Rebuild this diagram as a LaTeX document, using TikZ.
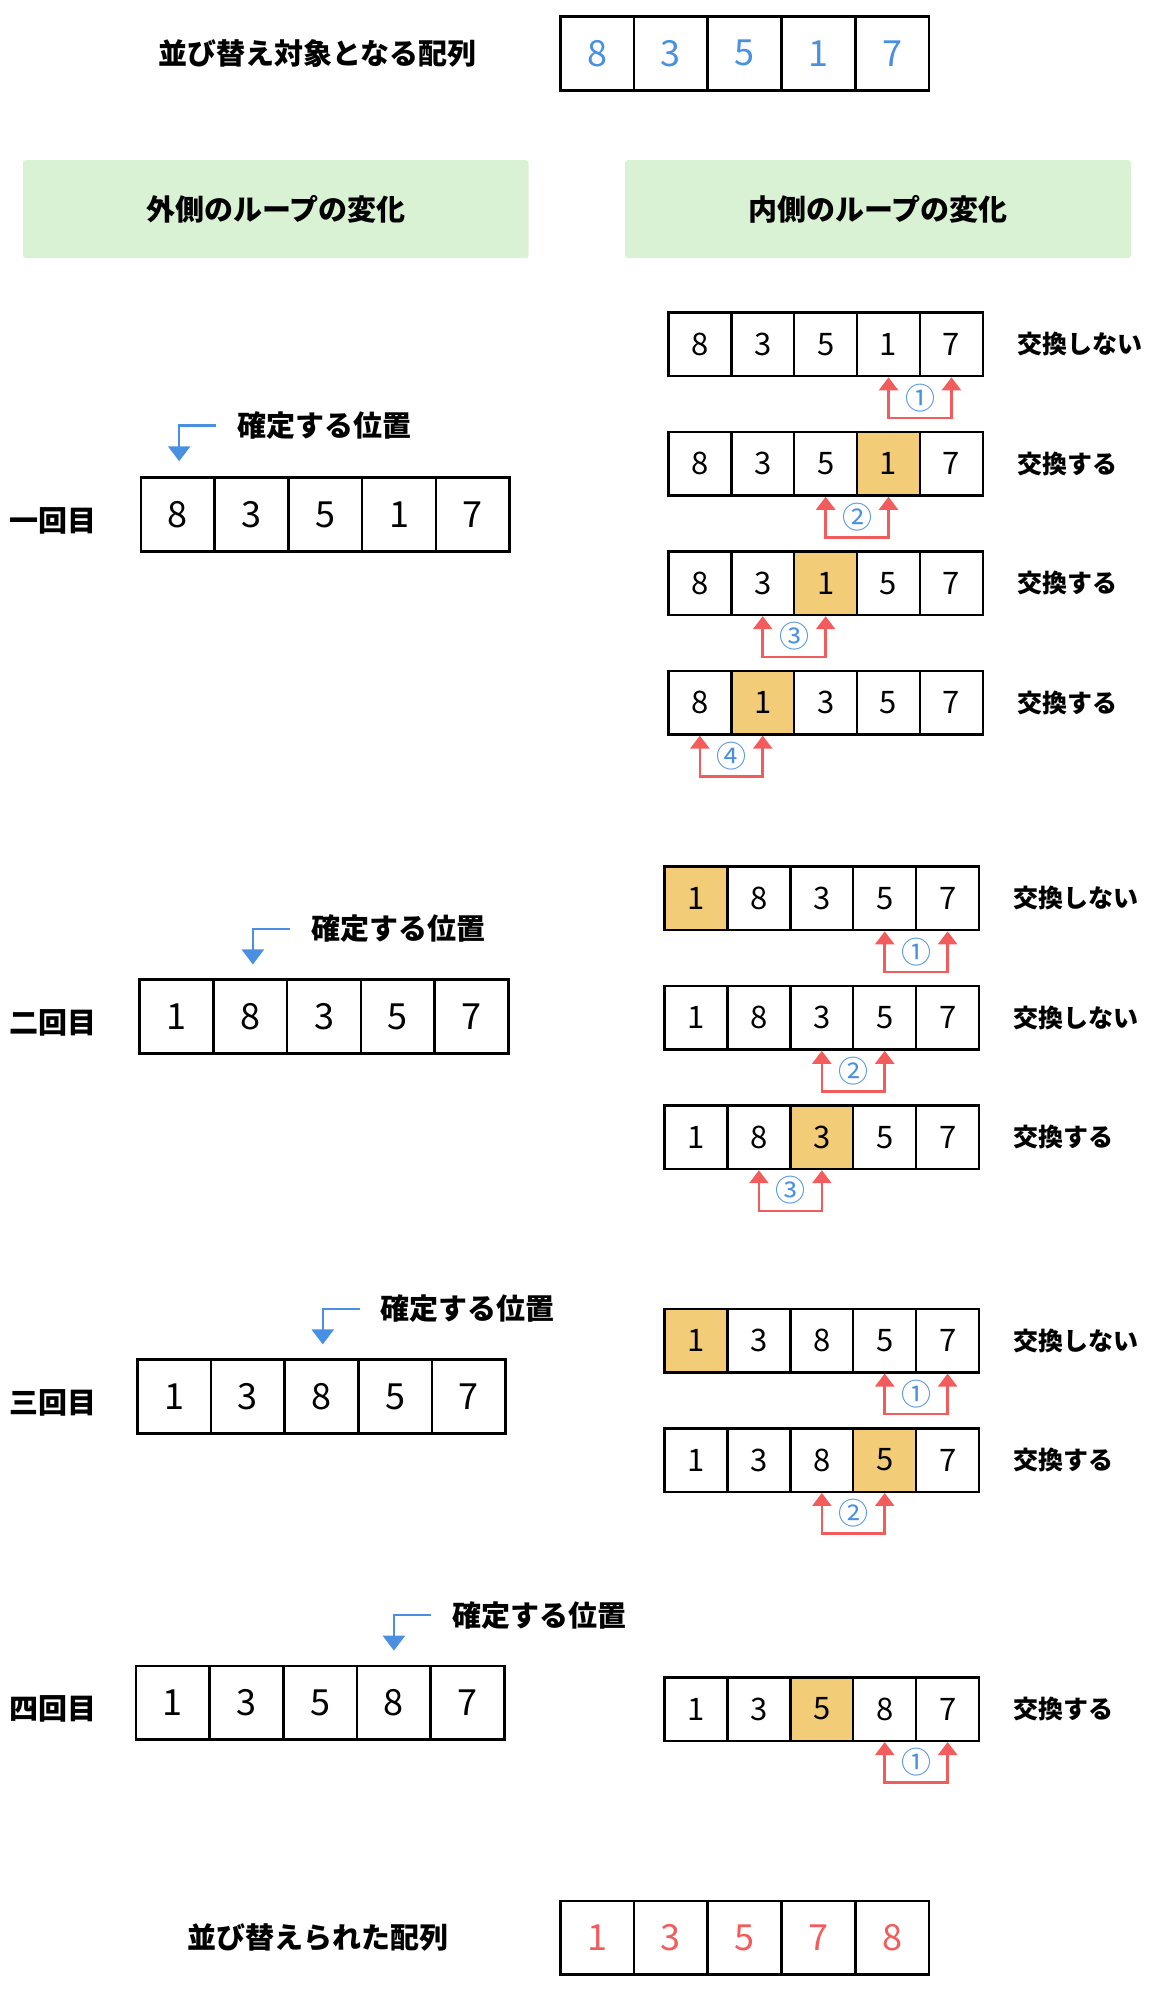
\documentclass[tikz,border=0pt]{standalone}
\usepackage{fontspec}
\setmainfont{Noto Sans CJK JP}
\usetikzlibrary{arrows.meta,calc}
\definecolor{hl}{HTML}{F2CC77}
\definecolor{grn}{HTML}{D9F2D4}
\definecolor{bl}{HTML}{4A90E2}
\definecolor{rd}{HTML}{F25C5C}
\tikzset{
 lcell/.style={draw=black,line width=2.6pt,minimum width=73.7pt,minimum height=73.7pt,inner sep=0pt,font=\fontsize{36}{36}\selectfont},
 rcell/.style={draw=black,line width=2.4pt,minimum width=62.9pt,minimum height=63.5pt,inner sep=0pt,font=\fontsize{31}{31}\selectfont},
 jlab/.style={font=\fontsize{29}{29}\selectfont\bfseries},
 slab/.style={font=\fontsize{25}{25}\selectfont\bfseries,anchor=west},
 redarr/.style={draw=rd,line width=2.5pt,{Triangle[width=19pt,length=13pt]}-{Triangle[width=19pt,length=13pt]}},
 bluearr/.style={draw=bl,line width=2.5pt,-{Triangle[width=22pt,length=15pt]}},
 circ/.style={text=bl,font=\fontsize{30}{30}\selectfont},
}
\newcommand\rowR[6]{%
 \foreach \d [count=\i] in {#4} {
  \ifnum\i=#5\def\fc{hl}\else\def\fc{white}\fi
  \node[rcell,fill=\fc] (#1\i) at ({#2+24.75+(\i-1)*49.5},{#3+25}) {\d};
 }
 \node[slab] (#1t) at ({#2+272},{#3+25}) {#6};
}
\newcommand\swapR[4]{%
 \coordinate (#1l) at ($(#1#2.south)+(0,32)$);
 \coordinate (#1r) at ($(#1#3.south)+(0,32)$);
 \draw[redarr] (#1#2.south) -- (#1l) -- (#1r) -- (#1#3.south);
 \node[circ] (#1c) at ($(#1l)!0.5!(#1r)+(0,-16)$) {#4};
}
\newcommand\rowL[5]{%
 \foreach \d [count=\i] in {#4} {
  \node[lcell] (#1\i) at ({#2+29+(\i-1)*58},{#3+29}) {\d};
 }
 \node[jlab] (#1t) at (42,{#3+34}) {#5};
}
\newcommand\marker[4]{% prefix, x, y, target
 \coordinate (#1a) at ({#2+29},#3);
 \coordinate (#1b) at (#2,#3);
 \coordinate (#1c) at (#2,{#3+28});
 \draw[bluearr] (#1a) -- (#1b) -- (#1c);
 \node[jlab,anchor=west] (#1t) at ({#2+43},#3) {確定する位置};
}
\begin{document}
\begin{tikzpicture}[x=1.271pt,y=-1.271pt]
\useasboundingbox (0,0) rectangle (905,1570);
% top
\node[jlab] (toplab) at (250,42) {並び替え対象となる配列};
\foreach \d [count=\i] in {8,3,5,1,7} \node[lcell,text=bl] (top\i) at ({441+29+(\i-1)*58},42) {\d};
% headers
\node[fill=grn,rounded corners=3pt,minimum width=506pt,minimum height=98pt,jlab] (h1) at (217,164.5) {外側のループの変化};
\node[fill=grn,rounded corners=3pt,minimum width=506pt,minimum height=98pt,jlab] (h2) at (691,164.5) {内側のループの変化};
% round 1
\rowL{a}{111}{376}{8,3,5,1,7}{一回目}
\marker{ma}{141}{335}{a1}
\rowR{ra}{526}{246}{8,3,5,1,7}{0}{交換しない}\swapR{ra}{4}{5}{①}
\rowR{rb}{526}{340}{8,3,5,1,7}{4}{交換する}\swapR{rb}{3}{4}{②}
\rowR{rc}{526}{434}{8,3,1,5,7}{3}{交換する}\swapR{rc}{2}{3}{③}
\rowR{rd}{526}{528}{8,1,3,5,7}{2}{交換する}\swapR{rd}{1}{2}{④}
% round 2
\rowL{b}{110}{771}{1,8,3,5,7}{二回目}
\marker{mb}{199}{731}{b2}
\rowR{re}{523}{682}{1,8,3,5,7}{1}{交換しない}\swapR{re}{4}{5}{①}
\rowR{rf}{523}{776}{1,8,3,5,7}{0}{交換しない}\swapR{rf}{3}{4}{②}
\rowR{rg}{523}{870}{1,8,3,5,7}{3}{交換する}\swapR{rg}{2}{3}{③}
% round 3
\rowL{c}{108}{1070}{1,3,8,5,7}{三回目}
\marker{mc}{254}{1030}{c3}
\rowR{rh}{523}{1030}{1,3,8,5,7}{1}{交換しない}\swapR{rh}{4}{5}{①}
\rowR{ri}{523}{1124}{1,3,8,5,7}{4}{交換する}\swapR{ri}{3}{4}{②}
% round 4
\rowL{d}{107}{1311}{1,3,5,8,7}{四回目}
\marker{md}{310}{1271}{d4}
\rowR{rj}{523}{1320}{1,3,5,8,7}{3}{交換する}\swapR{rj}{4}{5}{①}
% bottom
\node[jlab] (botlab) at (250,1525) {並び替えられた配列};
\foreach \d [count=\i] in {1,3,5,7,8} \node[lcell,text=rd] (bot\i) at ({441+29+(\i-1)*58},1525) {\d};
\end{tikzpicture}
\end{document}
